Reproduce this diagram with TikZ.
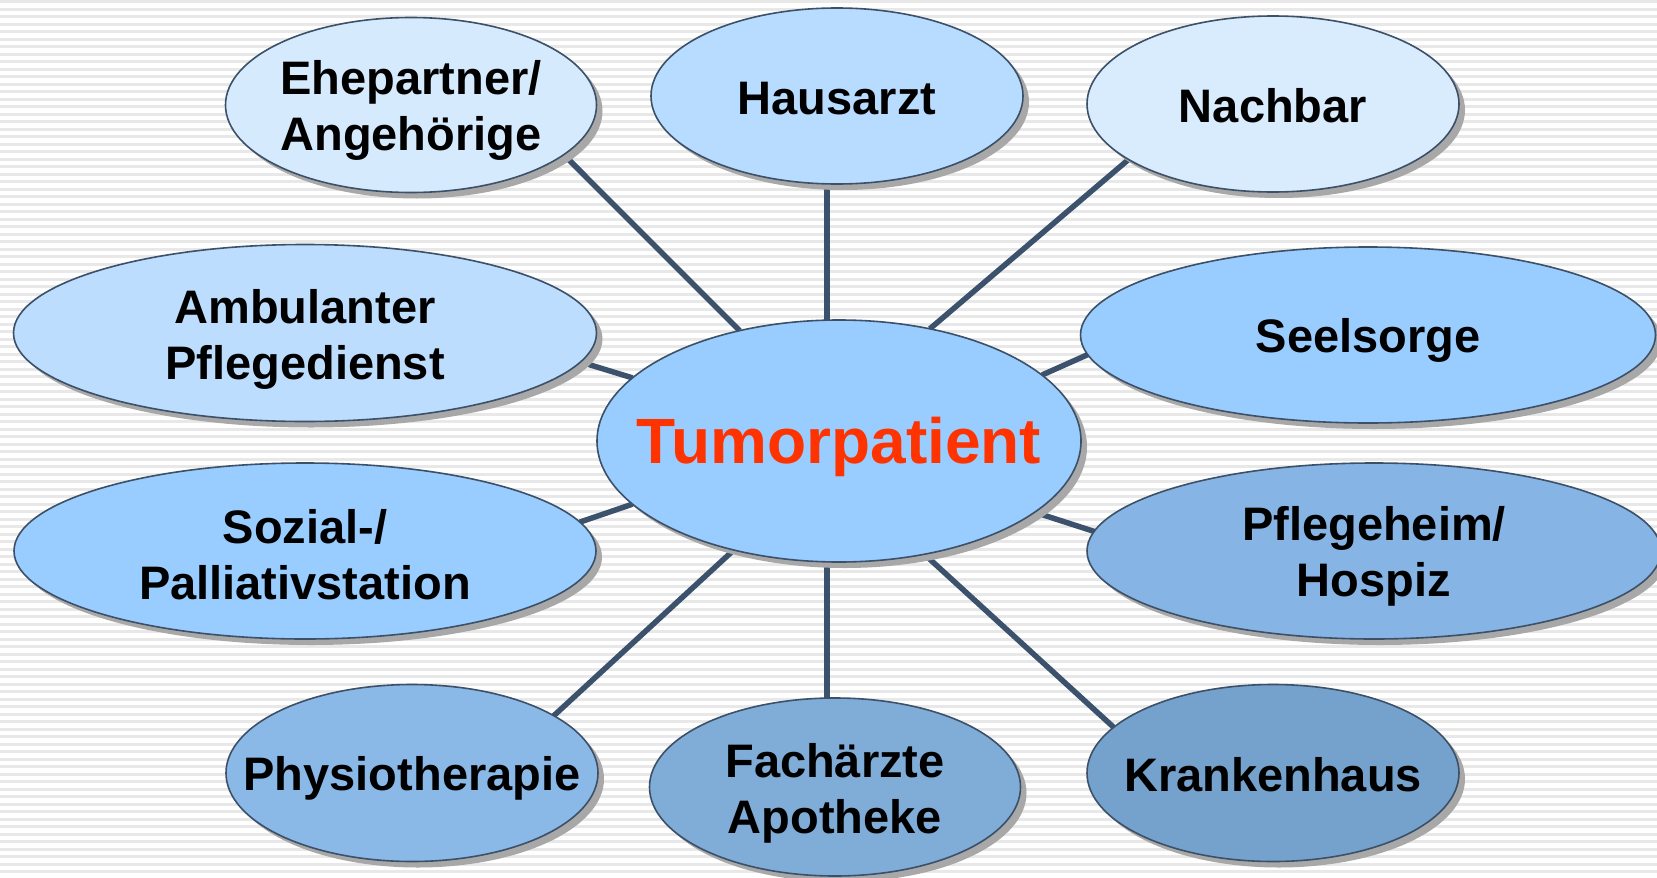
\documentclass[tikz,border=0pt]{standalone}
\usepackage{fontspec}
\setmainfont{Liberation Sans}
\usetikzlibrary{shapes.geometric,shadows,backgrounds,calc}
\definecolor{stripec}{RGB}{232,232,232}
\definecolor{borderc}{RGB}{60,80,104}
\definecolor{connc}{RGB}{60,82,108}
\definecolor{shadowc}{RGB}{168,168,168}
\definecolor{cEhe}{RGB}{214,234,253}
\definecolor{cHaus}{RGB}{184,220,255}
\definecolor{cNach}{RGB}{216,236,254}
\definecolor{cAmb}{RGB}{188,221,254}
\definecolor{cSeel}{RGB}{153,204,255}
\definecolor{cTum}{RGB}{153,204,255}
\definecolor{cSoz}{RGB}{153,204,255}
\definecolor{cPfl}{RGB}{134,180,228}
\definecolor{cPhys}{RGB}{138,185,232}
\definecolor{cFach}{RGB}{128,172,216}
\definecolor{cKrank}{RGB}{117,162,204}
\definecolor{tumred}{RGB}{255,51,0}
\begin{document}
\begin{tikzpicture}[x=1pt,y=-1pt,
  ell/.style={ellipse, draw=borderc, line width=1.6pt, inner sep=0pt, outer sep=0pt,
    drop shadow={shadow xshift=6pt, shadow yshift=-6pt, fill=shadowc, opacity=1}},
  lbl/.style={font=\fontsize{47}{56}\selectfont\bfseries, align=center, text=black, inner sep=0pt},
  conn/.style={draw=connc, line width=5.5pt}]
\useasboundingbox (0,0) rectangle (1657,878);
\begin{scope}[on background layer]
  \fill[white] (0,0) rectangle (1657,878);
  \foreach \i in {0,...,117} \fill[stripec] (0,\i*7.5) rectangle (1657,\i*7.5+3);
\end{scope}

% ellipses
\node[ell, fill=cTum, minimum width=484pt, minimum height=242pt] (tum) at (839,441) {};
\node[ell, fill=cEhe, minimum width=371pt, minimum height=175pt] (ehe) at (411,105) {};
\node[ell, fill=cHaus, minimum width=372pt, minimum height=176pt] (haus) at (837,96) {};
\node[ell, fill=cNach, minimum width=372pt, minimum height=176pt] (nach) at (1273,104) {};
\node[ell, fill=cAmb, minimum width=583pt, minimum height=177pt] (amb) at (305,333) {};
\node[ell, fill=cSeel, minimum width=575pt, minimum height=176pt] (seel) at (1368,335) {};
\node[ell, fill=cSoz, minimum width=582pt, minimum height=176pt] (soz) at (305,551) {};
\node[ell, fill=cPfl, minimum width=574pt, minimum height=176pt] (pfl) at (1374,551) {};
\node[ell, fill=cPhys, minimum width=372pt, minimum height=177pt] (phys) at (412,773) {};
\node[ell, fill=cFach, minimum width=371pt, minimum height=178pt] (fach) at (835,787) {};
\node[ell, fill=cKrank, minimum width=372pt, minimum height=177pt] (krank) at (1273,773) {};

% labels
\node[lbl, font=\fontsize{64}{70}\selectfont\bfseries, text=tumred] (tum-t) at ([yshift=-6pt]tum.center) {Tumorpatient};
\node[lbl] (ehe-t) at ([yshift=-5pt]ehe.center) {Ehepartner/\\Angehörige};
\node[lbl] (haus-t) at ([yshift=-3pt]haus.center) {Hausarzt};
\node[lbl] (nach-t) at ([yshift=-2pt]nach.center) {Nachbar};
\node[lbl] (amb-t) at ([yshift=-6pt]amb.center) {Ambulanter\\Pflegedienst};
\node[lbl] (seel-t) at ([yshift=-5pt]seel.center) {Seelsorge};
\node[lbl] (soz-t) at ([yshift=-4pt]soz.center) {Sozial-/\\Palliativstation};
\node[lbl] (pfl-t) at ([yshift=-5pt]pfl.center) {Pflegeheim/\\Hospiz};
\node[lbl] (phys-t) at ([yshift=-5pt]phys.center) {Physiotherapie};
\node[lbl] (fach-t) at ([yshift=-6pt]fach.center) {Fachärzte\\Apotheke};
\node[lbl] (krank-t) at ([yshift=-2pt]krank.center) {Krankenhaus};

% connectors
\coordinate (vl) at ([xshift=-12pt]tum.center);
\begin{scope}[on background layer]
  \draw[conn] (tum.132.3) -- (ehe.-18);
  \draw[conn] (vl) -- (vl |- haus.center);
  \draw[conn] (tum.51.8) -- (nach.201.7);
  \draw[conn] (tum.163.1) -- (amb.-6.4);
  \draw[conn] (tum.18.9) -- (seel.184.5);
  \draw[conn] (tum.197.3) -- (soz.6.2);
  \draw[conn] (tum.-20.8) -- (pfl.176.4);
  \draw[conn] (tum.226.6) -- (phys.22.1);
  \draw[conn] (vl) -- (vl |- fach.center);
  \draw[conn] (tum.-53.4) -- (krank.164);
\end{scope}
\end{tikzpicture}
\end{document}
